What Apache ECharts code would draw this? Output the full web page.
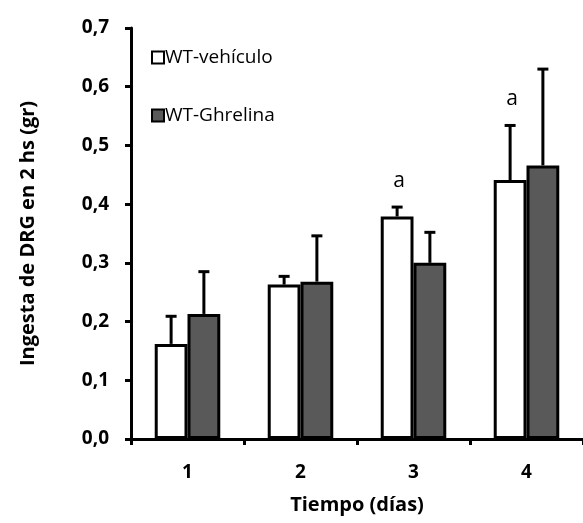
<!DOCTYPE html>
<html>
<head>
<meta charset="utf-8">
<script src="https://cdn.jsdelivr.net/npm/echarts@6/dist/echarts.min.js"></script>
<style>
  html, body { margin: 0; padding: 0; background: #fff; }
  #chart { width: 583px; height: 523px; }
</style>
</head>
<body>
<div id="chart"></div>
<script>
// datos
var dias = ['1', '2', '3', '4'];
var vehiculo = [0.162, 0.263, 0.379, 0.441];
var vehiculoErr = [0.209, 0.277, 0.395, 0.534];
var ghrelina = [0.213, 0.268, 0.300, 0.466];
var ghrelinaErr = [0.285, 0.346, 0.352, 0.630];
var letrasVeh = ['', '', 'a', 'a'];
var letrasGhr = ['', '', '', ''];

var fuente = '"Open Sans", Lato, sans-serif';
var gapCat = 0.42;

function barraError(valores, errores, letras, lado) {
    var datos = valores.map(function (v, i) { return [i, v, errores[i]]; });
    return {
        type: 'custom',
        z: 5,
        silent: true,
        renderItem: function (params, api) {
            var i = api.value(0);
            var base = api.coord([i, api.value(1)]);
            var tope = api.coord([i, api.value(2)]);
            var banda = api.size([1, 0])[0];
            var x = base[0] + lado * banda * (1 - gapCat) / 4;
            var hijos = [
                { type: 'line', shape: { x1: x, y1: base[1], x2: x, y2: tope[1] },
                  style: { stroke: '#000', lineWidth: 3 } },
                { type: 'line', shape: { x1: x - 5.5, y1: tope[1], x2: x + 5.5, y2: tope[1] },
                  style: { stroke: '#000', lineWidth: 3 } }
            ];
            if (letras[i]) {
                hijos.push({ type: 'text', x: x + 2, y: tope[1] - 26,
                    style: { text: letras[i], fill: '#000', font: '21px ' + fuente,
                             textAlign: 'center', textVerticalAlign: 'middle' } });
            }
            return { type: 'group', children: hijos };
        },
        data: datos
    };
}

var myChart = echarts.init(document.getElementById('chart'));
var option = {
    backgroundColor: '#fff',
    animation: false,
    grid: { left: 131, right: -7, top: 28, bottom: 84 },
    legend: {
        left: 146, top: 43,
        orient: 'vertical',
        itemGap: 39,
        itemWidth: 12, itemHeight: 12,
        icon: 'rect',
        textStyle: { fontFamily: fuente, fontSize: 19, color: '#000', padding: [0, 0, 0, -4] },
        data: ['WT-vehículo', 'WT-Ghrelina']
    },
    xAxis: {
        type: 'category',
        data: dias,
        name: 'Tiempo (días)',
        nameLocation: 'middle',
        nameGap: 56,
        nameTextStyle: { fontFamily: fuente, fontSize: 20, fontWeight: 'bold', color: '#000' },
        axisLine: { lineStyle: { color: '#000', width: 3 } },
        axisTick: { show: true, length: 6, lineStyle: { color: '#000', width: 3 } },
        axisLabel: { margin: 24, fontFamily: fuente, fontSize: 19, fontWeight: 'bold', color: '#000' }
    },
    yAxis: {
        type: 'value',
        min: 0, max: 0.7, interval: 0.1,
        name: 'Ingesta de DRG en 2 hs (gr)',
        nameLocation: 'middle',
        nameGap: 93,
        nameTextStyle: { fontFamily: fuente, fontSize: 20, fontWeight: 'bold', color: '#000' },
        axisLine: { show: true, lineStyle: { color: '#000', width: 3 } },
        axisTick: { show: true, length: 6, lineStyle: { color: '#000', width: 3 } },
        splitLine: { show: false },
        axisLabel: {
            margin: 22, fontFamily: fuente, fontSize: 19, fontWeight: 'bold', color: '#000',
            formatter: function (v) { return v.toFixed(1).replace('.', ','); }
        }
    },
    series: [
        {
            name: 'WT-vehículo', type: 'bar', data: vehiculo,
            barGap: '0%', barCategoryGap: (gapCat * 100) + '%',
            itemStyle: { color: '#fff', borderColor: '#000', borderWidth: 3 }
        },
        {
            name: 'WT-Ghrelina', type: 'bar', data: ghrelina,
            barGap: '0%', barCategoryGap: (gapCat * 100) + '%',
            itemStyle: { color: '#595959', borderColor: '#000', borderWidth: 3 }
        },
        barraError(vehiculo, vehiculoErr, letrasVeh, -1),
        barraError(ghrelina, ghrelinaErr, letrasGhr, 1)
    ]
};
myChart.setOption(option);
</script>
</body>
</html>
